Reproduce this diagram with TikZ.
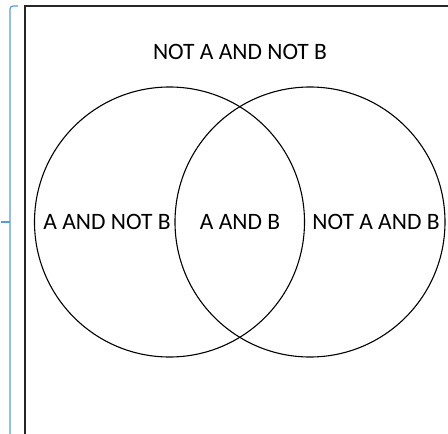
\documentclass[tikz,border=0pt]{standalone}
\usepackage{fontspec}
\setmainfont{Carlito}
\begin{document}
\begin{tikzpicture}[x=1pt,y=-1pt,
  setcircle/.style={draw=black,line width=1.1pt,circle,minimum size=270pt,inner sep=0pt},
  lbl/.style={font=\fontsize{23.5}{27}\selectfont,inner sep=0pt},
  frame/.style={draw=black!85,line width=1.8pt},
  brace/.style={draw={rgb,255:red,91;green,155;blue,213},line width=1.2pt,rounded corners=3pt}]
\useasboundingbox (0,0) rectangle (448,434);
% frame
\coordinate (ftl) at (25,6);
\coordinate (ftr) at (449,6);
\coordinate (fbl) at (25,435);
\draw[frame] (ftr) -- (ftl) -- (fbl);
% blue bracket
\coordinate (btop) at (18,6);
\coordinate (bcor) at (10,6);
\coordinate (bbot) at (10,435);
\coordinate (bmid) at (10,222);
\coordinate (btick) at (1,222);
\draw[brace] (btop) -- (bcor) -- (bbot);
\draw[brace] (bmid) -- (btick);
% circles
\node[setcircle] (A) at (169.5,222) {};
\node[setcircle] (B) at (310,222) {};
% labels
\node[lbl] (nn) at (240,52) {NOT A AND NOT B};
\node[lbl] (an) at (107,222) {A AND NOT B};
\node[lbl] (ab) at (240,222) {A AND B};
\node[lbl] (na) at (376,222) {NOT A AND B};
\end{tikzpicture}
\end{document}
